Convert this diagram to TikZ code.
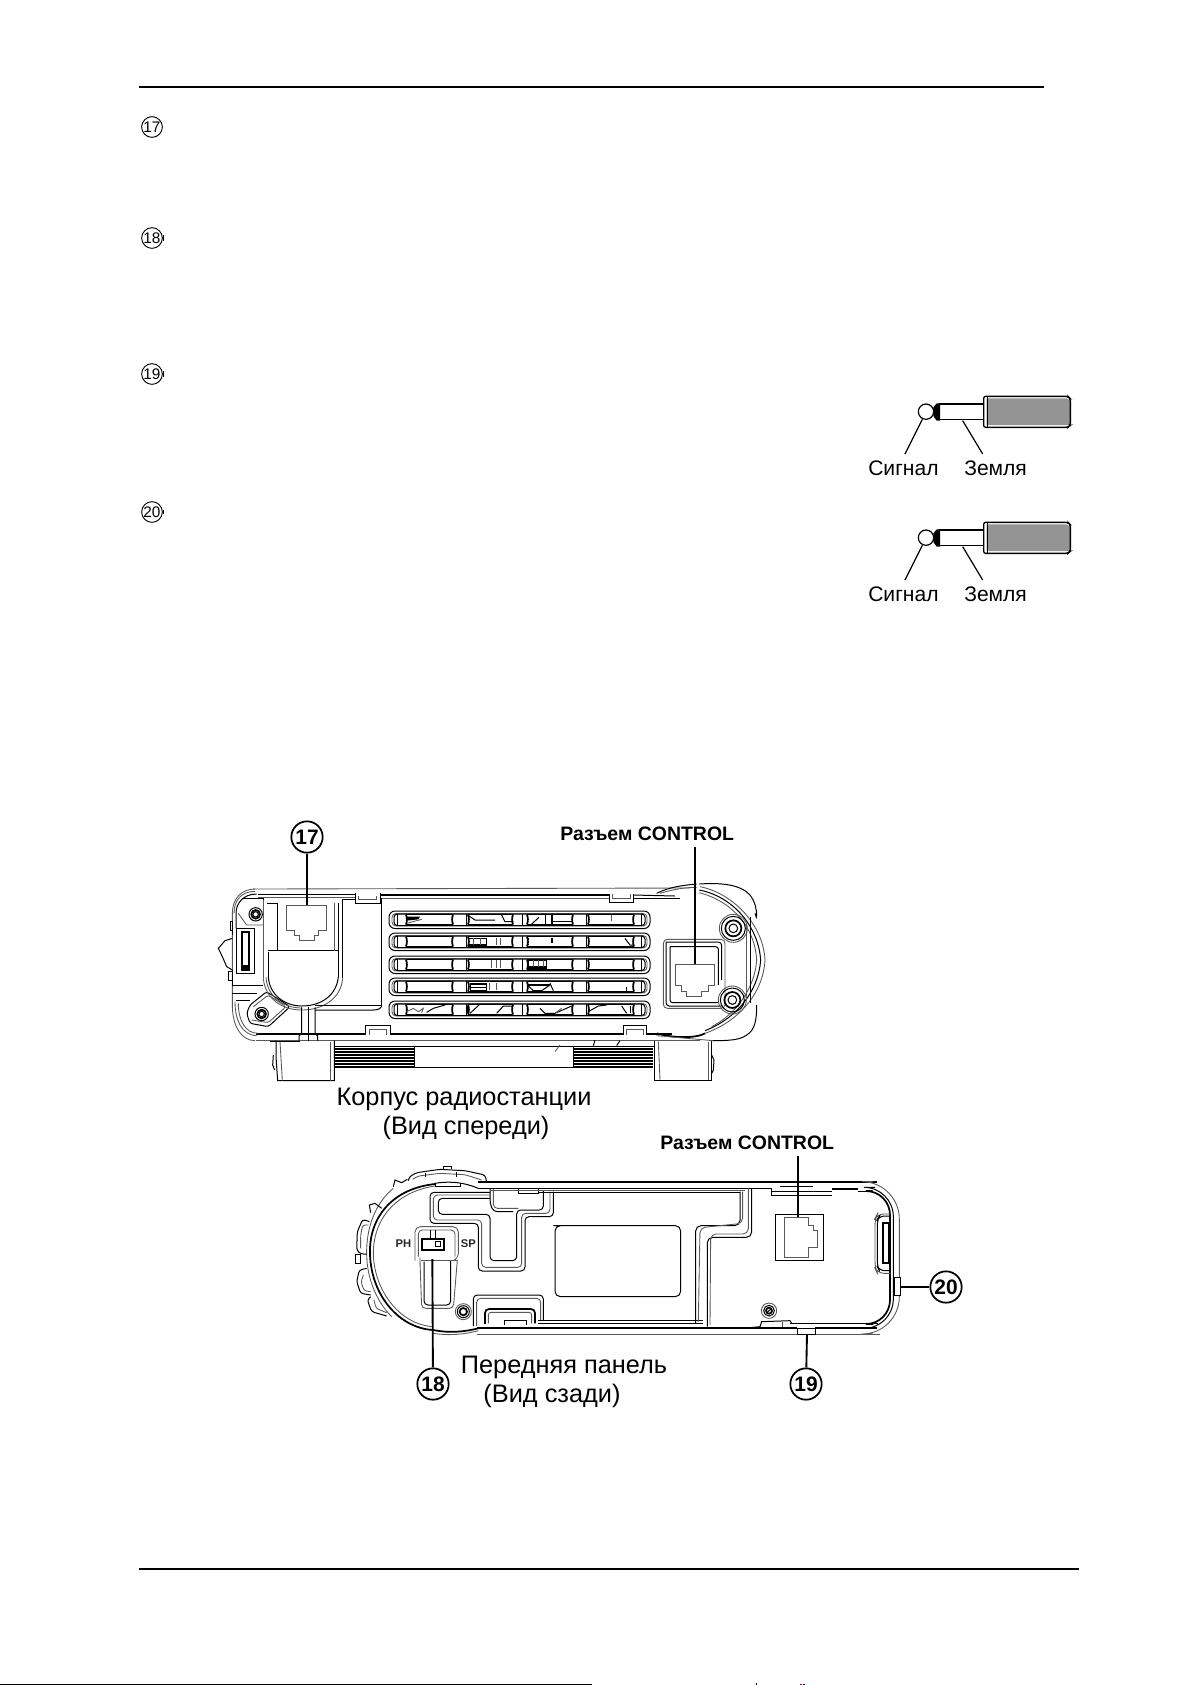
\documentclass[tikz,border=0pt]{standalone}
\usepackage{fontspec}
\setmainfont{Liberation Sans}
\tikzset{
  x=0.75pt,y=-0.75pt,
  ln/.style={draw=black,line width=0.75pt},
  lnh/.style={draw=black,line width=1.3pt},
  gl/.style={draw=black!65,line width=0.65pt},
  zoomed/.style={shift={#1},x=0.25pt,y=-0.25pt},
  badge/.style={draw=black,line width=1.3pt,circle,inner sep=0pt,minimum size=23.5pt,font=\fontsize{15.7}{17}\selectfont\bfseries},
  minibadge/.style={draw=black,line width=0.7pt,circle,inner sep=0pt,minimum size=15.5pt,font=\fontsize{11.5}{12}\selectfont},
  caption/.style={inner sep=0pt,font=\fontsize{19}{21}\selectfont},
  ctl/.style={inner sep=0pt,font=\fontsize{14.6}{16}\selectfont\bfseries},
  jacktext/.style={inner sep=0pt,font=\fontsize{15.8}{17}\selectfont},
  sw/.style={inner sep=0pt,font=\fontsize{8.4}{9}\selectfont\bfseries,text=black!85},
  leader/.style={draw=black,line width=0.85pt},
  leaderh/.style={draw=black,line width=1.4pt}
}
\newcommand{\jackplug}[1]{%
  \begin{scope}[zoomed={(840,#1)}]
    \fill[black!42] (440,55) -- (680,55) -- (690,62) -- (690,135) -- (440,135) -- cycle;
    \draw[draw=black,line width=1pt,rounded corners=1.5pt] (431,49) -- (684,49) -- (691,56) -- (691,136) -- (684,142) -- (431,142) -- cycle;
    \draw[draw=black,line width=0.6pt] (441,49) -- (441,142);
    \draw[draw=black,line width=1.2pt] (298,72) -- (431,72);
    \draw[draw=black,line width=1.2pt] (298,119) -- (431,119);
    \fill[black] (280,82) -- (290,70) -- (300,70) -- (300,122) -- (290,122) -- (280,108) -- cycle;
    \draw[draw=black,line width=0.9pt] (258,95) circle[radius=23];
    \draw[draw=black,line width=0.9pt] (247,118) -- (195,222);
    \draw[draw=black,line width=0.9pt] (368,122) -- (428,222);
  \end{scope}}
\begin{document}
\begin{tikzpicture}
\useasboundingbox (0,0) rectangle (1191,1685);
\fill[white] (0,0) rectangle (1191,1685);

% page rules
\draw[line width=1.5pt] (139,87) -- (1044,87);
\draw[line width=1.5pt] (139,1569) -- (1079,1569);
\draw[line width=0.9pt] (0,1684.4) -- (592,1684.4);
\draw[line width=0.5pt] (756,1683) -- (756,1685);
\fill[red!70!black] (800,1683.5) rectangle (802,1685);
\fill[blue!70!black] (803,1683.5) rectangle (805,1685);

% marginal numbers
\node[minibadge] (m17) at (152,127) {17};
\node[minibadge] (m18) at (152,238) {18};
\node[minibadge] (m19) at (152,374) {19};
\node[minibadge] (m20) at (152,512) {20};
\fill (162.5,235) rectangle (164,241);
\fill (162.5,371) rectangle (164,377);
\fill (162.5,510) rectangle (164,514);

% jacks
\jackplug{380}
\jackplug{506}
\node[jacktext,anchor=west] (sig1) at (868,468) {Сигнал};
\node[jacktext,anchor=west] (gnd1) at (964,468) {Земля};
\node[jacktext,anchor=west] (sig2) at (868,594) {Сигнал};
\node[jacktext,anchor=west] (gnd2) at (964,594) {Земля};

% ======== FRONT VIEW: body ========
% top lines
\draw[gl] (253,889) -- (690,888);
\draw[ln] (258,894) -- (355,894);
\draw[gl] (258,897) -- (355,897);
\draw[lnh] (380,895) -- (609,895);
\draw[ln] (633,895) -- (675,896);
\draw[gl] (380,898) -- (609,898);
\draw[ln] (633,898) -- (680,898);
% bottom lines
\draw[lnh] (256,1034) -- (366,1034);
\draw[lnh] (390,1034) -- (623,1034);
\draw[lnh] (647,1034) -- (672,1034);
\draw[gl] (256,1040) -- (700,1040);
\draw[ln] (335,1046) -- (655,1046);
\draw[ln] (414,1067) -- (573,1067);
\foreach \yy in {1049,1052,1055,1058,1061,1064,1067} {
  \draw[draw=black,line width=1.05pt] (335,\yy) -- (414,\yy);
  \draw[draw=black,line width=1.05pt] (573,\yy) -- (653,\yy);
}
\draw[ln] (414,1047) -- (414,1067);
\draw[ln] (573,1047) -- (573,1067);

% vent slots
\foreach \tt in {911,933,956,978,1001} {
  \draw[ln,rounded corners=4.5pt] (389,\tt) rectangle (650,\tt+17.5);
  \draw[gl,rounded corners=3pt] (392,\tt+2.5) rectangle (647,\tt+15);
  \draw[ln,rounded corners=2.5pt] (394,\tt+3) rectangle (645,\tt+14.5);
  \draw[ln] (397,\tt+3) -- (397,\tt+14.5);
  \draw[ln] (641,\tt+3) -- (641,\tt+14.5);
  \foreach \aa/\bb in {406/453,468/513,527/573,588/634} {
    \draw[lnh] (\aa,\tt+3.5) -- (\bb,\tt+3.5);
    \draw[lnh] (\aa,\tt+13.5) -- (\bb,\tt+13.5);
    \draw[lnh] (\aa,\tt+3.5) to[bend left=18] (\aa,\tt+13.5);
    \draw[lnh] (\bb,\tt+3.5) to[bend right=18] (\bb,\tt+13.5);
  }
  \draw[ln] (466,\tt+3) -- (466,\tt+14.5);
  \draw[ln] (522,\tt+3) -- (522,\tt+14.5) (586,\tt+3) -- (586,\tt+14.5);
}
\begin{scope}[zoomed={(385,880)}]
  % debris seen through the slots
  \fill (65,110) -- (105,110) -- (100,118) -- (65,122) -- cycle;
  \draw[gl] (65,130) -- (110,118);
  \draw[ln] (248,105) -- (270,120) -- (330,120);
  \draw[ln] (350,105) -- (360,125) -- (385,125);
  \draw[ln] (462,112) -- (440,132);
  \draw[ln] (480,105) -- (480,132);
  \draw[lnh] (500,105) -- (500,132);
  \draw[ln] (500,124) -- (560,124);
  \draw[gl] (680,105) -- (680,122);
  \draw[ln] (250,175) rectangle (305,195);
  \draw[lnh] (250,195) -- (305,195);
  \draw[gl] (265,175) -- (265,195) (285,175) -- (285,195);
  \draw[gl] (335,175) -- (335,195) (345,175) -- (345,195);
  \draw[lnh,densely dotted] (430,175) -- (430,195);
  \draw[lnh] (500,175) -- (500,188);
  \draw[ln] (720,175) -- (735,195) -- (745,195) -- (745,175);
  \draw[gl] (320,240) -- (320,265) (335,240) -- (335,265) (345,240) -- (345,265);
  \draw[ln] (430,240) rectangle (485,265);
  \draw[lnh] (430,262) -- (485,262);
  \draw[gl] (445,240) -- (445,262) (460,240) -- (460,262) (475,240) -- (475,262);
  \draw[ln] (255,312) rectangle (305,332);
  \draw[lnh] (255,312) -- (305,312);
  \draw[ln] (255,322) -- (305,322);
  \draw[gl] (312,310) -- (312,330) (335,310) -- (335,330);
  \draw[lnh] (430,315) -- (495,315);
  \draw[ln] (495,315) -- (470,332) -- (445,332) -- (430,318);
  \draw[ln] (495,310) -- (505,332);
  \draw[ln] (725,320) -- (725,332);
  \draw[gl] (65,395) -- (85,385) -- (100,395) -- (115,385) -- (110,398);
  \draw[ln] (125,397) -- (145,385) -- (180,375);
  \draw[ln] (248,378) -- (248,400);
  \draw[ln] (255,400) -- (285,372);
  \draw[ln] (335,400) -- (355,378) -- (385,378);
  \draw[ln] (465,385) -- (480,400) -- (510,400) -- (560,378);
  \draw[gl] (510,400) -- (530,385);
  \draw[ln] (610,395) -- (640,378) -- (665,375);
  \draw[ln] (710,378) -- (725,400);
  \draw[ln] (735,378) -- (735,400);
  % clips, right half
  \draw[ln] (673,42) -- (673,68) -- (745,68) -- (745,42);
  \draw[gl] (683,42) -- (683,55) -- (735,55) -- (735,42);
  \draw[ln] (715,465) -- (715,437) -- (785,437) -- (785,465);
  \draw[gl] (725,465) -- (725,447) -- (775,447) -- (775,465);
  \draw[gl] (510,515) -- (525,495);
  \draw[ln] (625,497) -- (630,480) (695,497) -- (705,482);
\end{scope}

% front view, left part
\begin{scope}[zoomed={(200,870)}]
  % outer left outline
  \draw[gl] (165,57) .. controls (125,57) and (97,85) .. (97,130) -- (97,405) .. controls (97,470) and (125,512) .. (165,512);
  \draw[ln] (170,72) .. controls (130,72) and (108,100) .. (108,130) -- (108,175);
  \draw[gl] (165,64) .. controls (125,64) and (102,90) .. (102,130);
  \draw[gl] (105,395) .. controls (105,450) and (125,495) .. (170,497);
  \draw[gl] (115,400) .. controls (115,450) and (135,490) .. (175,490);
  \draw[ln] (97,345) -- (190,345);
  \draw[ln] (97,370) -- (170,370);
  \draw[ln] (108,390) -- (150,390);
  % left top corner bracket
  \draw[ln] (125,85) -- (190,85) -- (190,125);
  \draw[gl] (115,130) -- (140,165) -- (190,165);
  \draw[ln] (190,165) -- (190,320);
  % screws
  \draw[ln] (167,133) circle[radius=20];
  \draw[lnh] (167,133) circle[radius=13];
  \draw[ln] (167,133) circle[radius=8];
  \draw[ln] (185,432) circle[radius=20];
  \draw[lnh] (185,432) circle[radius=13];
  \draw[ln] (185,432) circle[radius=8];
  % side connector
  \draw[ln] (110,175) -- (162,175) -- (162,310) -- (110,310) -- cycle;
  \draw[lnh] (127,185) rectangle (147,300);
  \fill (127,285) rectangle (147,300);
  \draw[ln] (97,205) -- (75,212) -- (55,235) -- (68,262) -- (80,290) -- (97,300);
  \draw[ln] (97,195) -- (97,175);
  \draw[ln] (97,300) -- (97,345);
  \draw[ln] (90,155) rectangle (97,180);
  \draw[ln] (85,305) rectangle (97,330);
  % screw bracket
  \draw[ln,rounded corners=2pt] (150,405) -- (200,365) -- (270,410) -- (205,470) -- (150,460) -- (140,430) -- cycle;
  \draw[gl,rounded corners=2pt] (160,410) -- (205,375) -- (258,410) -- (205,458) -- (155,450);
  % socket 17 bay
  \draw[ln] (233,100) -- (233,242);
  \draw[ln] (205,242) -- (415,242);
  \draw[ln] (205,245) -- (205,320);
  \draw[gl] (190,90) -- (190,325);
  \draw[ln] (415,100) -- (415,320);
  \draw[gl] (403,100) -- (403,242);
  \draw[ln] (428,88) -- (428,325);
  \draw[ln] (205,320) .. controls (208,375) and (255,408) .. (305,408) .. controls (365,408) and (410,375) .. (415,320);
  \draw[gl] (190,325) .. controls (195,385) and (245,420) .. (305,420) .. controls (370,420) and (423,385) .. (428,325);
  \draw[gl] (198,322) .. controls (202,380) and (250,414) .. (305,414);
  \draw[ln] (233,100) -- (200,100);
  \draw[ln] (428,88) -- (466,88);
  % RJ 17
  \draw[gl,line width=0.7pt] (258,105) -- (378,105) -- (378,180) -- (355,180) -- (355,195) -- (342,195) -- (342,210) -- (297,210) -- (297,195) -- (283,195) -- (283,180) -- (258,180) -- cycle;
  % panel edge
  \draw[ln] (545,85) -- (545,405) -- (345,405);
  \draw[ln] (345,420) -- (520,420) .. controls (535,420) and (545,415) .. (545,405);
  % posts
  \draw[ln] (305,412) -- (305,490) -- (297,498) -- (297,512);
  \draw[ln] (345,412) -- (345,490) -- (353,498) -- (353,512);
  \draw[ln] (325,412) -- (325,512);
  % clips
  \draw[ln] (466,70) -- (466,100) -- (540,100) -- (540,70);
  \draw[gl] (476,78) -- (476,88) -- (530,88) -- (530,78);
  \draw[ln] (497,495) -- (497,466) -- (570,466) -- (570,495);
  \draw[gl] (507,495) -- (507,477) -- (558,477) -- (558,495);
  % foot
  \draw[ln] (228,512) -- (228,560) -- (233,632) -- (403,632) -- (403,512);
  \draw[gl] (240,515) -- (247,632);
  \draw[gl] (390,515) -- (390,632);
  \draw[ln] (220,555) -- (218,585) -- (224,600);
  \draw[ln] (210,515) -- (300,515);
\end{scope}

% front view, right part
\begin{scope}[zoomed={(640,870)}]
  \draw[ln] (50,70) .. controls (90,50) and (130,46) .. (170,42);
  \draw[gl] (60,70) .. controls (100,58) and (135,52) .. (170,52);
  \draw[ln] (178,42) .. controls (240,38) and (300,42) .. (330,75) .. controls (345,95) and (350,115) .. (350,140);
  \draw[gl] (180,50) .. controls (280,70) and (370,165) .. (375,270);
  \draw[ln] (178,60) .. controls (280,80) and (355,170) .. (362,270);
  \draw[gl] (178,68) .. controls (280,95) and (345,175) .. (350,270);
  \draw[gl] (375,270) .. controls (370,370) and (295,455) .. (195,490);
  \draw[ln] (362,270) .. controls (355,365) and (290,445) .. (195,482);
  \draw[gl] (350,270) .. controls (345,355) and (285,435) .. (215,470);
  \draw[ln] (330,140) -- (330,400);
  \draw[gl] (320,160) -- (320,390);
  \draw[ln] (350,405) .. controls (350,450) and (345,480) .. (320,495) .. controls (300,510) and (270,512) .. (215,512);
  \draw[ln] (345,130) -- (350,145);
  % socket
  \draw[gl,rounded corners=3pt] (70,208) rectangle (255,415);
  \draw[ln,rounded corners=2.5pt] (78,216) -- (245,216) -- (245,330);
  \draw[ln,rounded corners=2.5pt] (78,216) -- (78,408) -- (245,408);
  \draw[ln,rounded corners=2pt] (90,230) -- (235,230) -- (235,345) (90,230) -- (90,398) -- (235,398);
  \draw[gl,line width=0.7pt] (107,283) -- (222,283) -- (222,347) -- (205,347) -- (205,365) -- (185,365) -- (185,380) -- (140,380) -- (140,365) -- (125,365) -- (125,347) -- (107,347) -- cycle;
  % screws
  \draw[gl] (280,175) circle[radius=42];
  \draw[ln] (280,175) circle[radius=36];
  \draw[lnh] (280,175) circle[radius=24];
  \draw[ln] (280,175) circle[radius=13];
  \draw[gl] (277,390) circle[radius=42];
  \draw[ln] (277,390) circle[radius=36];
  \draw[lnh] (277,390) circle[radius=24];
  \draw[ln] (277,390) circle[radius=13];
  % foot
  \draw[ln] (42,512) -- (42,630) -- (215,630) -- (215,512);
  \draw[gl] (55,515) -- (60,630);
  \draw[gl] (205,515) -- (205,630);
  \draw[ln] (215,555) -- (222,570) -- (220,600) -- (215,610);
  \draw[lnh] (50,490) .. controls (100,505) and (170,505) .. (195,490);
  \draw[gl] (50,497) -- (220,512);
\end{scope}

% front view labels and leaders
\node[badge] (c17) at (307,837) {17};
\node[ctl,anchor=west] (ctla) at (560,834) {Разъем CONTROL};
\coordinate (p17) at (307,905);
\coordinate (pa) at (695,964);
\draw[leader] (c17) -- (p17);
\draw[leader] (695,847) -- (pa);
\node[caption] (capa1) at (464,1099) {Корпус радиостанции};
\node[caption] (capa2) at (466,1128) {(Вид спереди)};

% ======== REAR VIEW ========
\begin{scope}[zoomed={(350,1160)}]
  % dial
  \draw[lnh] (255,72) .. controls (130,85) and (55,170) .. (60,285) .. controls (65,410) and (150,505) .. (250,510);
  \draw[gl] (255,78) .. controls (140,95) and (68,175) .. (70,285) .. controls (75,400) and (155,495) .. (250,500);
  \draw[gl] (130,85) .. controls (75,130) and (48,205) .. (50,285) .. controls (52,365) and (85,430) .. (125,470);
  \draw[lnh] (250,510) .. controls (300,520) and (345,515) .. (385,505);
  \draw[gl] (250,520) .. controls (300,528) and (350,522) .. (385,512);
  \draw[ln] (255,70) -- (255,80) -- (330,80) -- (330,68);
  \draw[ln] (255,70) .. controls (285,65) and (330,62) .. (385,85);
  % knobs
  \draw[ln] (130,80) -- (135,60) -- (155,68) -- (172,58);
  \draw[ln,rounded corners=2pt] (175,62) -- (178,50) -- (200,38) -- (270,28) -- (345,32) -- (405,45) -- (410,66);
  \draw[gl,rounded corners=2pt] (188,58) -- (205,48) -- (270,40) -- (345,44) -- (395,60);
  \draw[ln] (225,40) -- (225,50) (320,35) -- (320,50);
  \draw[ln] (280,28) -- (280,18) -- (305,18) -- (305,28);
  \draw[ln] (62,158) -- (58,135) -- (75,130) -- (95,145);
  \draw[ln,rounded corners=2pt] (58,185) -- (38,178) -- (22,215) -- (20,270) -- (32,282) -- (50,282);
  \draw[gl,rounded corners=2pt] (55,195) -- (38,195) -- (32,225) -- (32,265);
  \draw[ln] (15,283) rectangle (30,310);
  \draw[ln,rounded corners=2pt] (50,325) -- (28,330) -- (20,365) -- (32,400) -- (62,405);
  \draw[gl,rounded corners=2pt] (40,345) -- (33,365) -- (42,392) -- (62,395);
  \draw[ln,rounded corners=2pt] (62,410) -- (52,420) -- (65,455) -- (110,468);
  \draw[gl,rounded corners=2pt] (72,420) -- (78,445) -- (110,458);
  % upper T channel
  \draw[ln,rounded corners=3pt] (420,97) -- (240,97) -- (240,190) -- (385,190) -- (385,333) -- (525,333) -- (525,170) -- (610,170) -- (610,95);
  \draw[gl,rounded corners=3pt] (420,105) -- (250,105) -- (250,180) -- (395,180) -- (395,322) -- (515,322) -- (515,160) -- (600,160) -- (600,95);
  \draw[ln,rounded corners=3pt] (420,115) -- (265,115) -- (265,163) -- (420,163) -- (420,302) -- (500,302) -- (500,150) -- (580,150) -- (580,90);
  \draw[gl,rounded corners=3pt] (430,85) -- (430,145) -- (505,145);
  \draw[ln,rounded corners=3pt] (420,85) -- (420,130) -- (430,155) -- (490,155);
  \draw[ln] (505,100) -- (505,85) -- (565,85) -- (565,100) -- cycle;
  % switch
  \draw[gl,rounded corners=4pt] (195,302) -- (195,200) -- (325,200) -- (325,295) -- (310,302);
  \draw[gl,rounded corners=3pt] (205,290) -- (205,210) -- (315,210) -- (315,290);
  \draw[ln] (240,210) -- (240,238);
  \draw[ln] (256,210) -- (256,238);
  \draw[lnh] (217,237) rectangle (281,270);
  \draw[ln] (255,244) rectangle (272,260);
  \draw[gl,rounded corners=3pt] (210,305) -- (210,305) -- (215,445) -- (310,445) -- (322,300);
  \draw[ln,rounded corners=3pt] (222,305) -- (222,435) -- (302,435) -- (302,300);
  \draw[gl] (212,300) -- (325,300);
  % bolt
  \draw[gl] (340,455) circle[radius=24];
  \draw[ln] (340,455) circle[radius=18];
  \draw[lnh] (340,455) circle[radius=11];
  % lower bracket
  \draw[ln,rounded corners=3pt] (370,498) -- (370,405) -- (580,405) -- (580,480);
  \draw[gl,rounded corners=3pt] (380,498) -- (380,415) -- (572,415) -- (572,480);
  \draw[lnh,rounded corners=3pt] (405,492) -- (405,447) -- (555,447) -- (555,490);
  \draw[gl,rounded corners=2pt] (415,490) -- (415,457) -- (545,457) -- (545,490);
  \draw[ln] (463,495) -- (463,480) -- (530,480) -- (530,495);
\end{scope}
\begin{scope}[zoomed={(350,1160)}]
  \node[sw] (ph) at (160,252) {PH};
  \node[sw] (sp) at (355,252) {SP};
  \coordinate (p18) at (247,297);
\end{scope}
% long lines of the rear view
\draw[lnh] (478,1182) -- (877,1182);
\draw[ln] (478,1188) -- (772,1188);
\draw[gl] (490,1190) -- (745,1190);
\draw[ln] (538,1192) -- (740,1192);
\draw[lnh] (477,1328) -- (760,1328);
\draw[gl] (477,1334) -- (880,1334);
\draw[ln] (538,1320) -- (703,1320);
\draw[ln] (538,1323) -- (703,1323);
\draw[lnh] (760,1328) -- (797,1328);
\draw[lnh] (815,1328) -- (877,1328);
\draw[ln] (790,1323) -- (878,1323);
% middle part
\begin{scope}[zoomed={(560,1160)}]
  \draw[ln,rounded corners=4pt] (-20,197) -- (362,197) -- (362,410) -- (-15,410) -- (-15,197) -- (-5,197);
  \draw[ln,rounded corners=4pt] (540,95) -- (540,197) -- (407,197) -- (407,490);
  \draw[gl,rounded corners=4pt] (548,95) -- (548,190) -- (420,203) -- (415,485);
  \draw[ln,rounded corners=4pt] (575,85) -- (575,232) -- (442,232) -- (442,500);
  \draw[gl,rounded corners=4pt] (565,85) -- (565,222) -- (452,222) -- (450,495);
  \draw[ln] (635,87) -- (635,105) -- (660,105);
  \draw[ln] (660,80) -- (760,80);
\end{scope}
% right part
\begin{scope}[zoomed={(760,1160)}]
  \draw[gl,rounded corners=28pt] (340,65) -- (418,65) -- (418,522) -- (340,522);
  \draw[ln,rounded corners=22pt] (345,82) -- (400,82) -- (400,505) -- (345,505);
  \draw[lnh,rounded corners=18pt] (338,93) -- (390,93) -- (390,492) -- (340,492);
  \draw[ln] (35,85) -- (35,105) -- (215,105) (35,93) -- (215,93);
  \fill (215,84) rectangle (295,90);
  \draw[ln] (295,93) -- (338,93);
  % bumps
  \filldraw[fill=white,ln] (402,352) rectangle (422,405);
  \filldraw[fill=white,ln] (112,505) rectangle (165,523);
  % RJ rear
  \draw[ln] (45,163) rectangle (190,302);
  \draw[gl,line width=0.7pt] (72,172) -- (145,172) -- (145,197) -- (160,197) -- (160,212) -- (172,212) -- (172,262) -- (160,262) -- (145,262) -- (145,292) -- (72,292) -- cycle;
  % slot
  \draw[gl,rounded corners=5pt] (392,162) -- (352,162) -- (345,175) -- (345,325) -- (352,340) -- (392,340);
  \draw[ln,rounded corners=4pt] (392,168) -- (358,168) -- (352,178) -- (352,320) -- (358,332) -- (392,332);
  \draw[lnh] (368,190) rectangle (388,308);
  % screw
  \draw[gl] (27,452) circle[radius=23];
  \draw[ln] (27,452) circle[radius=16];
  \draw[lnh] (27,452) circle[radius=9];
  \draw[ln] (20,458) -- (34,446);
  % tab
  \draw[ln] (-50,505) -- (0,500) -- (5,485) -- (90,482) -- (95,490);
  \draw[gl] (68,485) -- (68,500);
\end{scope}
% labels and leaders of the rear view
\node[badge] (c18) at (433,1384) {18};
\node[badge] (c19) at (806,1384) {19};
\node[badge] (c20) at (946,1287) {20};
\coordinate (p19) at (807,1334);
\coordinate (p20) at (901,1287);
\coordinate (pb) at (798,1217);
\node[ctl,anchor=west] (ctlb) at (660,1143) {Разъем CONTROL};
\draw[leaderh] (c18) -- (p18);
\draw[leaderh] (c19) -- (p19);
\draw[leader] (c20) -- (p20);
\draw[leaderh] (798,1156) -- (pb);
\node[caption] (capb1) at (564,1367) {Передняя панель};
\node[caption] (capb2) at (552,1396) {(Вид сзади)};
\end{tikzpicture}
\end{document}
